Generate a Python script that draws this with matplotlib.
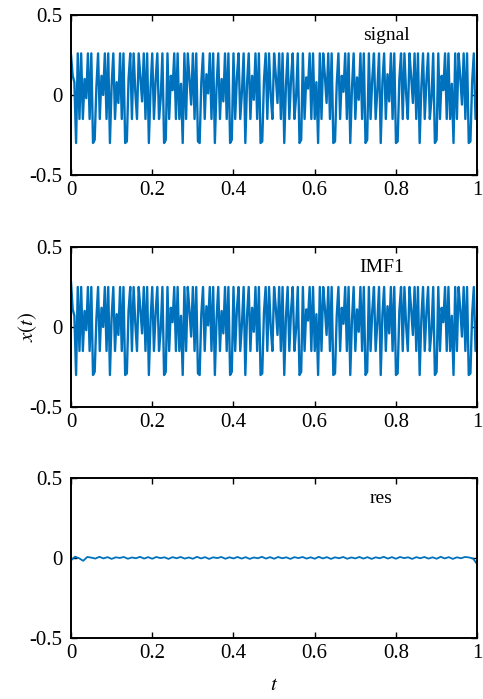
import numpy as np
import matplotlib
matplotlib.use("Agg")
import matplotlib.pyplot as plt

signal = [
    0.25, 0.12, 0.08, -0.30, 0.26, -0.15, 0.26, -0.15,
    0.10, -0.02, 0.26, -0.15, 0.26, -0.30, -0.28, 0.05,
    0.26, -0.15, 0.12, 0.00, 0.26, -0.15, 0.26, -0.30,
    0.06, 0.26, -0.15, 0.08, -0.05, 0.26, -0.15, 0.26,
    -0.30, -0.29, 0.10, 0.26, -0.15, 0.26, 0.02, -0.15,
    0.26, 0.11, -0.04, 0.26, -0.15, 0.26, -0.30, 0.04,
    0.26, -0.15, 0.09, 0.26, -0.15, -0.02, 0.26, -0.30,
    -0.28, 0.26, -0.15, 0.12, 0.03, 0.26, -0.15, 0.26,
    -0.15, 0.07, -0.30, 0.26, -0.15, 0.26, 0.10, -0.06,
    0.26, -0.15, 0.26, -0.29, -0.30, 0.08, 0.26, -0.15,
    0.13, 0.01, 0.26, -0.15, 0.26, -0.30, 0.05, 0.26,
    -0.15, 0.10, -0.04, 0.26, -0.15, 0.26, -0.30, -0.28,
    0.26, -0.15, 0.11, 0.26, -0.15, 0.02, 0.26, -0.30,
    0.07, 0.26, -0.15, 0.12, -0.03, 0.26, -0.15, 0.26,
    -0.30, -0.29, 0.09, 0.26, -0.15, 0.26, 0.00, -0.15,
    0.26, 0.12, -0.05, 0.26, -0.15, 0.26, -0.30, 0.06,
    0.26, -0.15, 0.10, 0.26, -0.15, -0.01, 0.26, -0.30,
    -0.28, 0.26, -0.15, 0.11, 0.04, 0.26, -0.15, 0.26,
    -0.15, 0.08, -0.30, 0.26, -0.15, 0.26, 0.12, -0.05,
    0.26, -0.15, 0.26, -0.30, -0.29, 0.07, 0.26, -0.15,
    0.12, 0.02, 0.26, -0.15, 0.26, -0.30, 0.04, 0.26,
    -0.15, 0.11, -0.03, 0.26, -0.15, 0.26, -0.30, -0.28,
    0.26, -0.15, 0.10, 0.26, -0.15, 0.03, 0.26, -0.30,
    0.08, 0.26, -0.15, 0.13, -0.04, 0.26, -0.15, 0.26,
    -0.30, -0.29, 0.10, 0.26, -0.15, 0.26, 0.01, -0.15,
    0.26, 0.11, -0.05, 0.26, -0.15, 0.26, -0.30, 0.05,
    0.26, -0.15, 0.09, 0.26, -0.15, -0.02, 0.26, -0.30,
    -0.28, 0.26, -0.15, 0.12, 0.03, 0.26, -0.15, 0.26,
    -0.15, 0.07, -0.30, 0.26, -0.15, 0.26, 0.11, -0.06,
    0.26, -0.15, 0.26, -0.30, -0.29, 0.08, 0.26, -0.15,
    0.02,
]

imf1 = [
    0.28, 0.11, 0.07, -0.30, 0.25, -0.15, 0.25, -0.15,
    0.10, -0.02, 0.25, -0.15, 0.25, -0.30, -0.28, 0.05,
    0.25, -0.15, 0.12, 0.00, 0.25, -0.15, 0.25, -0.30,
    0.06, 0.25, -0.15, 0.08, -0.05, 0.25, -0.15, 0.25,
    -0.30, -0.29, 0.10, 0.25, -0.15, 0.25, 0.02, -0.15,
    0.25, 0.11, -0.04, 0.25, -0.15, 0.25, -0.30, 0.04,
    0.25, -0.15, 0.09, 0.25, -0.15, -0.02, 0.25, -0.30,
    -0.28, 0.25, -0.15, 0.12, 0.03, 0.25, -0.15, 0.25,
    -0.15, 0.07, -0.30, 0.25, -0.15, 0.25, 0.10, -0.06,
    0.25, -0.15, 0.25, -0.29, -0.30, 0.08, 0.25, -0.15,
    0.13, 0.01, 0.25, -0.15, 0.25, -0.30, 0.05, 0.25,
    -0.15, 0.10, -0.04, 0.25, -0.15, 0.25, -0.30, -0.28,
    0.25, -0.15, 0.11, 0.25, -0.15, 0.02, 0.25, -0.30,
    0.07, 0.25, -0.15, 0.12, -0.03, 0.25, -0.15, 0.25,
    -0.30, -0.29, 0.09, 0.25, -0.15, 0.25, 0.00, -0.15,
    0.25, 0.12, -0.05, 0.25, -0.15, 0.25, -0.30, 0.06,
    0.25, -0.15, 0.10, 0.25, -0.15, -0.01, 0.25, -0.30,
    -0.28, 0.25, -0.15, 0.11, 0.04, 0.25, -0.15, 0.25,
    -0.15, 0.08, -0.30, 0.25, -0.15, 0.25, 0.12, -0.05,
    0.25, -0.15, 0.25, -0.30, -0.29, 0.07, 0.25, -0.15,
    0.12, 0.02, 0.25, -0.15, 0.25, -0.30, 0.04, 0.25,
    -0.15, 0.11, -0.03, 0.25, -0.15, 0.25, -0.30, -0.28,
    0.25, -0.15, 0.10, 0.25, -0.15, 0.03, 0.25, -0.30,
    0.08, 0.25, -0.15, 0.13, -0.04, 0.25, -0.15, 0.25,
    -0.30, -0.29, 0.10, 0.25, -0.15, 0.25, 0.01, -0.15,
    0.25, 0.11, -0.05, 0.25, -0.15, 0.25, -0.30, 0.05,
    0.25, -0.15, 0.09, 0.25, -0.15, -0.02, 0.25, -0.30,
    -0.28, 0.25, -0.15, 0.12, 0.03, 0.25, -0.15, 0.25,
    -0.15, 0.07, -0.30, 0.25, -0.15, 0.25, 0.11, -0.06,
    0.25, -0.15, 0.25, -0.30, -0.29, 0.08, 0.25, -0.15,
    0.06,
]

res = [
    -0.015, 0.008, -0.002, -0.018, 0.006, 0.002, -0.004, 0.007, -0.003, 0.005,
    -0.006, 0.004, 0.000, 0.006, -0.005, 0.003, -0.002, 0.007, -0.004, 0.005,
    -0.005, 0.006, -0.001, 0.004, -0.006, 0.005, -0.002, 0.006, -0.004, 0.003,
    -0.005, 0.007, -0.003, 0.005, -0.006, 0.004, -0.001, 0.006, -0.005, 0.004,
    -0.003, 0.006, -0.004, 0.005, -0.006, 0.003, -0.002, 0.007, -0.004, 0.005,
    -0.005, 0.006, -0.002, 0.004, -0.006, 0.005, -0.001, 0.006, -0.004, 0.004,
    -0.005, 0.007, -0.003, 0.005, -0.006, 0.004, -0.002, 0.006, -0.005, 0.003,
    -0.003, 0.006, -0.004, 0.005, -0.006, 0.004, -0.002, 0.007, -0.004, 0.005,
    -0.005, 0.006, -0.001, 0.004, -0.006, 0.005, -0.002, 0.006, -0.004, 0.004,
    -0.005, 0.007, -0.003, 0.005, -0.006, 0.004, -0.002, 0.006, 0.003, -0.004,
    -0.040,
]

labels = ["signal", "IMF1", "res"]
label_x = [0.72, 0.71, 0.735]
yticks = [-0.5, 0, 0.5]
xticks = [0, 0.2, 0.4, 0.6, 0.8, 1]

plt.rcParams["font.family"] = ["Liberation Serif", "DejaVu Serif"]
plt.rcParams["mathtext.fontset"] = "stix"

fig = plt.figure(figsize=(4.83, 6.99), dpi=100)
left, width, height = 0.147, 0.841, 0.229
bottoms = [0.7496, 0.4177, 0.0873]
series = [signal, imf1, res]

for i, (y, lab) in enumerate(zip(series, labels)):
    ax = fig.add_axes([left, bottoms[i], width, height])
    t = np.linspace(0, 1, len(y))
    ax.plot(t, y, color="#0072BD", lw=1.7 if i < 2 else 1.3)
    ax.set_xlim(0, 1)
    ax.set_ylim(-0.5, 0.5)
    ax.set_xticks(xticks)
    ax.set_xticklabels(["0", "0.2", "0.4", "0.6", "0.8", "1"])
    ax.set_yticks(yticks)
    ax.set_yticklabels(["-0.5", "0", "0.5"])
    ax.tick_params(direction="in", top=True, right=True, labelsize=15,
                   length=4, width=1, pad=6)
    ax.tick_params(axis="x", pad=4)
    for s in ax.spines.values():
        s.set_linewidth(1.4)
    ax.text(label_x[i], 0.37, lab, fontsize=14, va="center", ha="left")
    if i == 1:
        ax.set_ylabel("$x(t)$", fontsize=15)
        ax.yaxis.set_label_coords(-0.08, 0.5)
    if i == 2:
        ax.set_xlabel("$t$", fontsize=15, labelpad=10)

fig.savefig("out.png", dpi=100)
